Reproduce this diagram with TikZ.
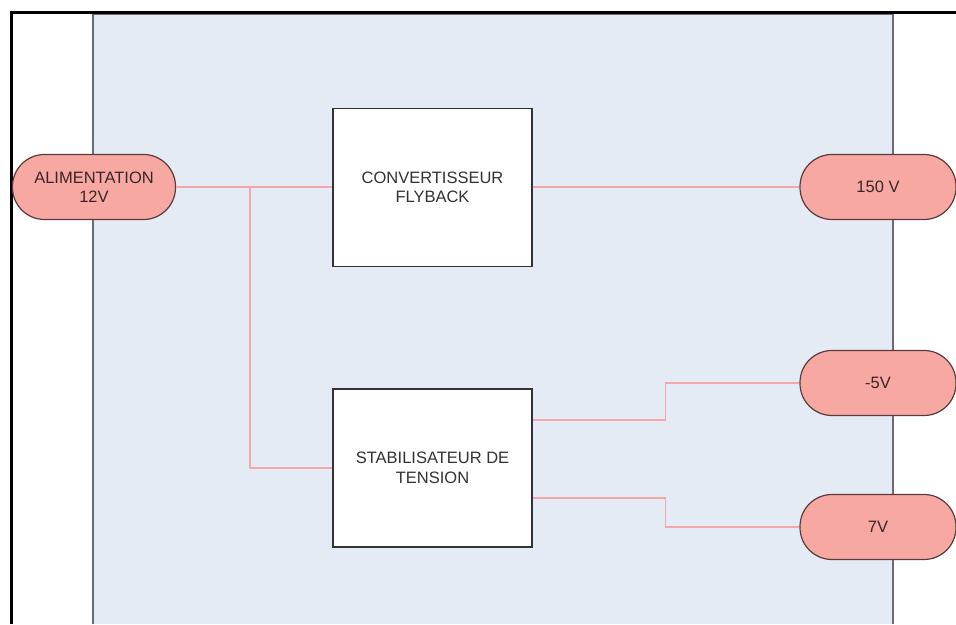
\documentclass[tikz,border=0pt]{standalone}
\usepackage{fontspec}
\setmainfont{Liberation Sans}
\usepackage{xcolor}
\usepackage{tikz}
\usetikzlibrary{positioning}
\definecolor{psFrame}{HTML}{000000}
\definecolor{psPanel}{HTML}{E5EBF5}
\definecolor{psEdge}{HTML}{6A6C70}
\definecolor{psInk}{HTML}{333333}
\definecolor{psPill}{HTML}{F8A8A3}
\definecolor{psPillEdge}{HTML}{5A3B38}
\definecolor{psPillInk}{HTML}{3A2626}
\definecolor{psWire}{HTML}{F2A8A8}
\tikzset{
  ps diagram/.style={font=\fontsize{16.5}{19.5}\selectfont, text=psInk,
    line join=miter},
  ps box/.style={draw=psInk, fill=white, line width=1.3pt, align=center,
    minimum width=199pt, minimum height=158pt, inner sep=0pt},
  ps pill/.style={draw=psPillEdge, fill=psPill, line width=1.2pt,
    rounded corners=32pt, align=center, text=psPillInk,
    minimum height=65pt, inner sep=0pt},
  ps wire/.style={draw=psWire, line width=1.3pt}
}

\begin{document}
\begin{tikzpicture}[ps diagram,x=1pt,y=1pt]
\useasboundingbox (0,0) rectangle (956,624);
% background panel and page frame
\fill[psPanel] (93,0) rectangle (893,610);
\draw[psEdge,line width=1.5pt] (93,0) -- (93,610) -- (893,610) -- (893,0);
\draw[psFrame,line width=3pt] (11,0) -- (11,611) -- (956,611);
% blocks
\node[ps box] (conv) at (432.5,436.5) {CONVERTISSEUR\\FLYBACK};
\node[ps box] (stab) at (432.5,156) {STABILISATEUR DE\\TENSION};
\node[ps pill,minimum width=163pt] (alim) at (94,437) {ALIMENTATION\\12V};
\node[ps pill,minimum width=156pt] (v150) at (878,437) {150 V};
\node[ps pill,minimum width=156pt] (vneg) at (878,241) {-5V};
\node[ps pill,minimum width=156pt] (vpos) at (878,97) {7V};
% wiring
\draw[ps wire] (alim.east) -- (alim.east -| conv.west);
\coordinate (tap) at (250,437);
\draw[ps wire] (tap) |- (stab.west);
\draw[ps wire] (conv.east |- v150.west) -- (v150.west);
\draw[ps wire] ([yshift=48pt]stab.east) -- ++(133,0) |- (vneg.west);
\draw[ps wire] ([yshift=-30pt]stab.east) -- ++(133,0) |- (vpos.west);
\end{tikzpicture}
\end{document}
